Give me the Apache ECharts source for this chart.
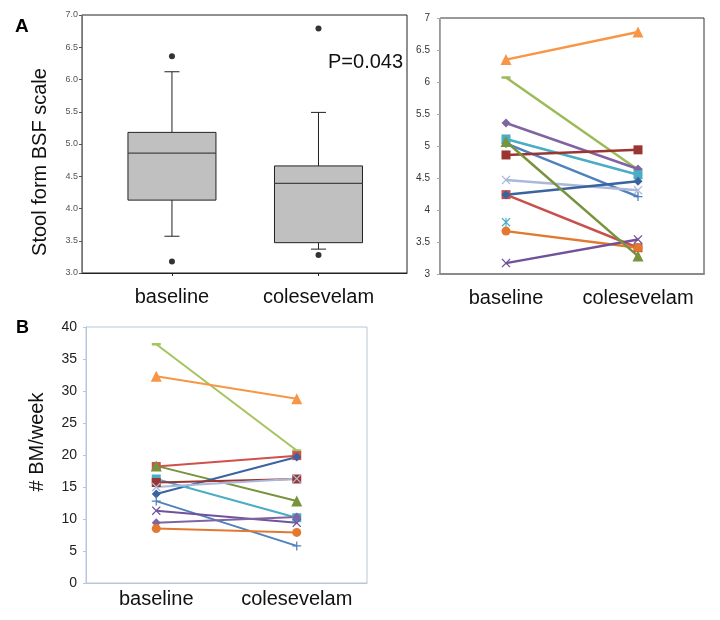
<!DOCTYPE html>
<html>
<head>
<meta charset="utf-8">
<script src="https://cdn.jsdelivr.net/npm/echarts@6/dist/echarts.min.js"></script>
<style>
html,body{margin:0;padding:0;background:#fff;}
#chart{width:720px;height:620px;}
</style>
</head>
<body>
<div id="chart"></div>
<script>
// ---------------- DATA ----------------
const categories = ['baseline', 'colesevelam'];

// Panel A (left): box plot statistics [lower whisker, Q1, median, Q3, upper whisker]
const boxBaseline = [3.57, 4.13, 4.86, 5.18, 6.12];
const boxColesevelam = [3.37, 3.47, 4.39, 4.66, 5.49];
const outliersBaseline = [6.36, 3.18];
const outliersColesevelam = [6.79, 3.28];
const pValueText = 'P=0.043';

// Panel A (right): stool form BSF per subject
const bsfBaseline    = [6.35, 6.07, 5.36, 5.11, 5.04, 4.86, 4.47, 4.24, 4.24, 3.81, 3.67, 3.17, 5.07];
const bsfColesevelam = [6.78, 4.63, 4.64, 4.55, 4.21, 4.94, 4.31, 3.41, 4.45, null, 3.41, 3.54, 3.28];

// Panel B: bowel movements per week per subject
const bmBaseline    = [37.3, 32.3, 18.2, 18.3, 13.9, 16.25, 15.7, 15.0, 12.8, 11.3, 9.4, 8.5];
const bmColesevelam = [20.7, 28.8, 19.9, 12.8, 19.7, 10.2, 16.25, 16.3, 5.8, 9.4, 10.3, 7.9];

// ---------------- STYLES ----------------
const FONT = '"Liberation Sans", Arial, sans-serif';
const SYM_X = 'path://M1,0 L5,4 L9,0 L10,1 L6,5 L10,9 L9,10 L5,6 L1,10 L0,9 L4,5 L0,1 Z';
const SYM_PLUS = 'path://M4.3,0 H5.7 V4.3 H10 V5.7 H5.7 V10 H4.3 V5.7 H0 V4.3 H4.3 Z';
const SYM_DASH = 'path://M0,0 H10 V2 H0 Z';
const SYM_STAR = 'path://M1,0 L5,4 L9,0 L10,1 L6,5 L10,9 L9,10 L5,6 L1,10 L0,9 L4,5 L0,1 Z M4.4,0 H5.6 V10 H4.4 Z';

const bsfColors = ['#F79646','#9BBB59','#8064A2','#4BACC6','#4F81BD','#9B3532','#AAB8DA','#C8504C','#3A64A0','#4BACC6','#E3782F','#70529B','#77933C'];
const bsfSymbols = ['triangle', SYM_DASH, 'diamond', 'rect', SYM_PLUS, 'rect', SYM_X, 'rect', 'diamond', SYM_STAR, 'circle', SYM_X, 'triangle'];

const bmColors = ['#A5C45E','#F79646','#D0504C','#77933C','#3A64A0','#4BACC6','#9B3532','#AAB8DA','#4F81BD','#70529B','#8064A2','#E3782F'];
const bmSymbols = [SYM_DASH, 'triangle', 'rect', 'triangle', 'diamond', 'rect', 'rect', SYM_X, SYM_PLUS, SYM_X, 'diamond', 'circle'];

function symSize(s, base) {
  if (s === SYM_DASH) return [base, 2.5];
  if (s === 'triangle') return base + 2;
  return base;
}

// ---------------- CHART ----------------
const chart = echarts.init(document.getElementById('chart'), null, {renderer: 'canvas'});

const series = [];

// Box plot (custom series drawn via axis coordinates)
series.push({
  type: 'custom',
  xAxisIndex: 0, yAxisIndex: 0,
  data: [[0].concat(boxBaseline), [1].concat(boxColesevelam)],
  renderItem: function (params, api) {
    const x = api.value(0);
    const pMin = api.coord([x, api.value(1)]);
    const pQ1 = api.coord([x, api.value(2)]);
    const pMed = api.coord([x, api.value(3)]);
    const pQ3 = api.coord([x, api.value(4)]);
    const pMax = api.coord([x, api.value(5)]);
    const hw = 44, cw = 7.5, cx = pMin[0];
    const ls = {stroke: '#222', lineWidth: 1};
    return {
      type: 'group',
      children: [
        {type: 'line', shape: {x1: cx, y1: pMax[1], x2: cx, y2: pQ3[1]}, style: ls},
        {type: 'line', shape: {x1: cx, y1: pQ1[1], x2: cx, y2: pMin[1]}, style: ls},
        {type: 'line', shape: {x1: cx - cw, y1: pMax[1], x2: cx + cw, y2: pMax[1]}, style: ls},
        {type: 'line', shape: {x1: cx - cw, y1: pMin[1], x2: cx + cw, y2: pMin[1]}, style: ls},
        {type: 'rect', shape: {x: cx - hw, y: pQ3[1], width: 2 * hw, height: pQ1[1] - pQ3[1]},
          style: {fill: '#C0C0C0', stroke: '#222', lineWidth: 1}},
        {type: 'line', shape: {x1: cx - hw, y1: pMed[1], x2: cx + hw, y2: pMed[1]}, style: {stroke: '#444', lineWidth: 1.2}}
      ]
    };
  }
});
series.push({
  type: 'scatter', xAxisIndex: 0, yAxisIndex: 0,
  symbol: 'circle', symbolSize: 6, itemStyle: {color: '#000'},
  data: outliersBaseline.map(v => [0, v]).concat(outliersColesevelam.map(v => [1, v]))
});

// Panel A right
bsfBaseline.forEach((b, i) => {
  series.push({
    type: 'line', xAxisIndex: 1, yAxisIndex: 1,
    data: [b, bsfColesevelam[i]],
    symbol: bsfSymbols[i], symbolSize: symSize(bsfSymbols[i], 9),
    showAllSymbol: true,
    lineStyle: {color: bsfColors[i], width: 2.5},
    itemStyle: {color: bsfColors[i]},
    animation: false
  });
});

// Panel B
bmBaseline.forEach((b, i) => {
  series.push({
    type: 'line', xAxisIndex: 2, yAxisIndex: 2,
    data: [b, bmColesevelam[i]],
    symbol: bmSymbols[i], symbolSize: symSize(bmSymbols[i], 9),
    showAllSymbol: true,
    lineStyle: {color: bmColors[i], width: 2},
    itemStyle: {color: bmColors[i]},
    animation: false
  });
});

const option = {
  animation: false,
  backgroundColor: '#fff',
  textStyle: {fontFamily: FONT},
  grid: [
    {left: 82, top: 15, width: 325, height: 258, show: true, borderColor: '#222', borderWidth: 1},
    {left: 440, top: 18, width: 264, height: 256, show: true, borderColor: '#333', borderWidth: 1},
    {left: 86, top: 327, width: 281, height: 256, show: true, borderColor: '#B7C6DA', borderWidth: 1}
  ],
  xAxis: [
    {
      gridIndex: 0, type: 'value', min: -0.614, max: 1.604,
      splitLine: {show: false},
      axisLine: {show: true, onZero: false, lineStyle: {color: '#222'}},
      axisTick: {show: true, customValues: [0, 1], length: 3, lineStyle: {color: '#222'}},
      axisLabel: {customValues: [0, 1], formatter: v => categories[Math.round(v)] || '',
        fontSize: 20, color: '#111', margin: 14, fontFamily: FONT}
    },
    {
      gridIndex: 1, type: 'category', data: categories, boundaryGap: true,
      axisLine: {show: true, lineStyle: {color: '#8A8A8A', width: 2}},
      axisTick: {show: false},
      axisLabel: {interval: 0, fontSize: 20, color: '#111', margin: 14, fontFamily: FONT}
    },
    {
      gridIndex: 2, type: 'category', data: categories, boundaryGap: true,
      axisLine: {show: true, lineStyle: {color: '#B7C6DA'}},
      axisTick: {show: false},
      axisLabel: {interval: 0, fontSize: 20, color: '#111', margin: 6, fontFamily: FONT}
    }
  ],
  yAxis: [
    {
      gridIndex: 0, type: 'value', min: 3, max: 7, interval: 0.5,
      splitLine: {show: false},
      axisLine: {show: true, onZero: false, lineStyle: {color: '#777'}},
      axisTick: {show: true, length: 3, lineStyle: {color: '#555'}},
      axisLabel: {formatter: v => v.toFixed(1), fontSize: 9, color: '#555', margin: 4, fontFamily: FONT}
    },
    {
      gridIndex: 1, type: 'value', min: 3, max: 7, interval: 0.5,
      splitLine: {show: false},
      axisLine: {show: true, lineStyle: {color: '#A8A8A8'}},
      axisTick: {show: true, length: 3, lineStyle: {color: '#A8A8A8'}},
      axisLabel: {fontSize: 10, color: '#333', margin: 10, fontFamily: FONT}
    },
    {
      gridIndex: 2, type: 'value', min: 0, max: 40, interval: 5,
      splitLine: {show: false},
      axisLine: {show: true, lineStyle: {color: '#B7C6DA'}},
      axisTick: {show: true, length: 3, lineStyle: {color: '#B7C6DA'}},
      axisLabel: {fontSize: 14, color: '#222', margin: 9, fontFamily: FONT}
    }
  ],
  graphic: [
    {type: 'text', x: 15, y: 27, style: {text: 'A', font: 'bold 19px ' + FONT, fill: '#000', textVerticalAlign: 'middle'}},
    {type: 'text', x: 16, y: 328, style: {text: 'B', font: 'bold 18px ' + FONT, fill: '#000', textVerticalAlign: 'middle'}},
    {type: 'text', x: 40, y: 162, rotation: Math.PI / 2,
      style: {text: 'Stool form BSF scale', font: '20px ' + FONT, fill: '#111', textAlign: 'center', textVerticalAlign: 'middle'}},
    {type: 'text', x: 37, y: 442, rotation: Math.PI / 2,
      style: {text: '# BM/week', font: '20px ' + FONT, fill: '#111', textAlign: 'center', textVerticalAlign: 'middle'}},
    {type: 'text', x: 328, y: 62,
      style: {text: pValueText, font: '20px ' + FONT, fill: '#111', textAlign: 'left', textVerticalAlign: 'middle'}}
  ],
  series: series
};

chart.setOption(option);
</script>
</body>
</html>
